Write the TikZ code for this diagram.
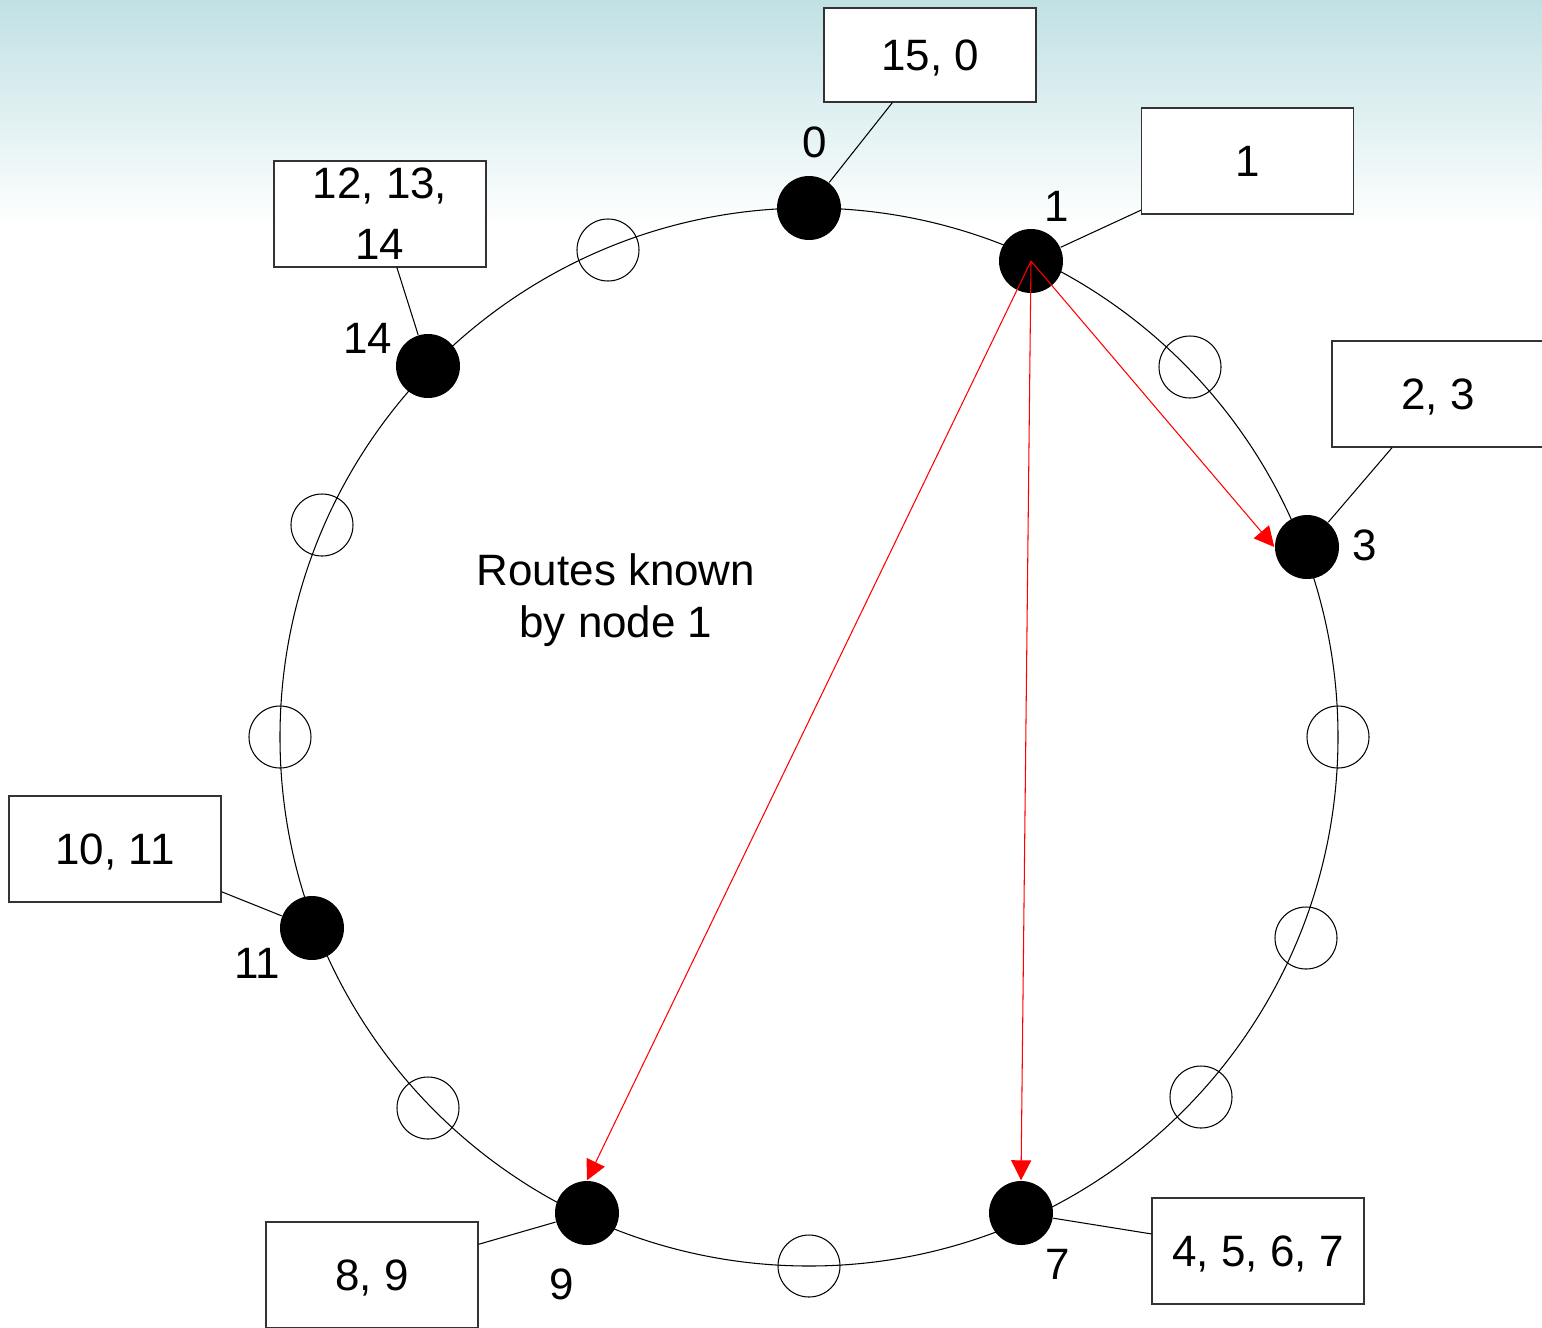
\documentclass[tikz,border=0pt]{standalone}
\usepackage{fontspec}
\setmainfont{Liberation Sans}
\usetikzlibrary{arrows.meta}

\definecolor{band}{HTML}{C0E1E4}
\tikzset{
  peer/.style={circle,fill=black,inner sep=0pt,minimum size=0.64cm},
  slot/.style={circle,draw,line width=0.3pt,inner sep=0pt,minimum size=0.62cm},
  keys/.style={draw=black!80,line width=0.3pt,fill=white,minimum width=2.12cm,minimum height=1.06cm,inner sep=0pt,text depth=0pt,align=center},
  link/.style={line width=0.3pt},
  route/.style={red,line width=0.3pt,-{Triangle[length=0.2cm,width=0.2cm]}}
}

\begin{document}
\begin{tikzpicture}[font=\fontsize{12.5}{15}\selectfont]
  \useasboundingbox (-8.09,-5.90) rectangle (7.33,7.37);
  % Shaded band at the top
  \shade[top color=band,bottom color=white] (-8.09,5.10) rectangle (7.33,7.37);

  % Draw the ring
  \draw[link] (0,0) circle (5.29);

  % Empty slots on the ring
  \node[slot] (s2) at (3.81,3.70) {};
  \node[slot] (s4) at (5.29,0) {};
  \node[slot] (s5) at (4.97,-2.01) {};
  \node[slot] (s6) at (3.92,-3.60) {};
  \node[slot] (s8) at (0,-5.29) {};
  \node[slot] (s10) at (-3.81,-3.71) {};
  \node[slot] (s12) at (-5.29,0) {};
  \node[slot] (s13) at (-4.87,2.12) {};
  \node[slot] (s15) at (-2.01,4.87) {};

  % Peers and their ids
  \node[peer] (n0) at (0,5.29) {};
  \node[peer] (n1) at (2.22,4.76) {};
  \node[peer] (n3) at (4.98,1.90) {};
  \node[peer] (n7) at (2.12,-4.76) {};
  \node[peer] (n9) at (-2.22,-4.76) {};
  \node[peer] (n11) at (-4.97,-1.91) {};
  \node[peer] (n14) at (-3.81,3.71) {};
  \node (l0) at (0.06,5.95) {0};
  \node (l1) at (2.48,5.31) {1};
  \node (l3) at (5.56,1.92) {3};
  \node (l7) at (2.49,-5.27) {7};
  \node (l9) at (-2.47,-5.47) {9};
  \node (l11) at (-5.52,-2.26) {11};
  \node (l14) at (-4.41,3.99) {14};

  % Keys held by each peer
  \node[keys,minimum height=0.94cm] (k0) at (1.21,6.82) {15, 0};
  \node[keys] (k1) at (4.385,5.76) {1};
  \node[keys] (k3) at (6.29,3.43) {2, 3};
  \node[keys] (k7) at (4.49,-5.14) {4, 5, 6, 7};
  \node[keys] (k9) at (-4.37,-5.38) {8, 9};
  \node[keys] (k11) at (-6.94,-1.12) {10, 11};
  \node[keys,font=\fontsize{12.5}{17.4}\selectfont] (k14) at (-4.29,5.23) {12, 13,\\14};
  \draw[link] (k0) -- (n0);
  \draw[link] (k1) -- (n1);
  \draw[link] (k3) -- (n3);
  \draw[link] (k7) -- (n7);
  \draw[link] (k9) -- (n9);
  \draw[link] (k11) -- (n11);
  \draw[link] (k14) -- (n14);

  % Routes of node 1
  \draw[route] (n1.center) -- (n3.west);
  \draw[route] (n1.center) -- (n7.north);
  \draw[route] (n1.center) -- (n9.north);
  \node[align=center] (txt) at (-1.93,1.37) {Routes known\\by node 1};
\end{tikzpicture}
\end{document}
